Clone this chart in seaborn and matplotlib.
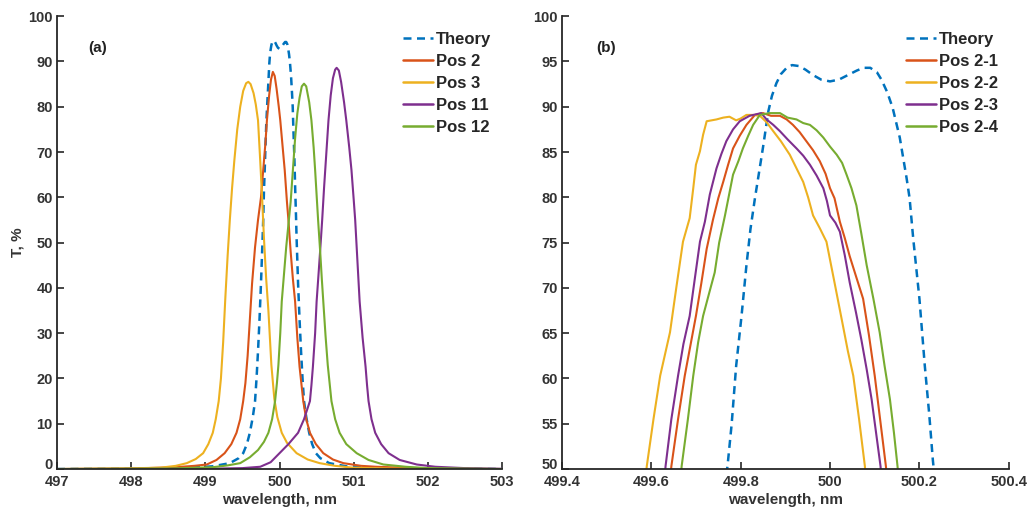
import matplotlib
matplotlib.use("Agg")
import matplotlib.pyplot as plt
import matplotlib.transforms as mtransforms
import seaborn as sns
import pandas as pd

# ---------------- data ----------------
theory_x = [497.0, 498.0, 498.8, 499.1, 499.33, 499.45, 499.51, 499.56, 499.60, 499.64, 499.67, 499.69,
            499.71, 499.73, 499.75, 499.772, 499.78, 499.79, 499.802, 499.813, 499.822, 499.832, 499.842,
            499.85, 499.862, 499.87, 499.88, 499.89, 499.903, 499.915, 499.93, 499.945, 499.962, 499.98,
            500.0, 500.02, 500.04, 500.06, 500.075, 500.09, 500.105, 500.115, 500.128, 500.14, 500.156,
            500.171, 500.178, 500.186, 500.2, 500.212, 500.222, 500.23, 500.25, 500.27, 500.29, 500.31,
            500.33, 500.36, 500.40, 500.44, 500.49, 500.55, 500.67, 500.9, 501.2, 502.0, 503.0]
theory_y = [0.0, 0.05, 0.3, 0.6, 1.3, 2.4, 3.5, 5.5, 8.0, 11.5, 15.0, 20.0, 26.0, 33.0, 41.0, 51.0, 55.0,
            61.4, 66.9, 72.5, 76.5, 79.9, 83.0, 85.5, 89.5, 91.2, 92.6, 93.6, 94.3, 94.6, 94.5, 94.1, 93.5,
            93.0, 92.8, 93.0, 93.5, 94.0, 94.3, 94.3, 93.8, 93.0, 91.6, 89.9, 86.6, 82.2, 79.9, 75.5, 68.8,
            61.4, 56.0, 51.0, 41.0, 33.0, 26.0, 20.0, 15.0, 11.5, 8.0, 5.5, 3.5, 2.4, 1.3, 0.6, 0.3, 0.05,
            0.0]

pos2_x = [497.0, 498.0, 498.6, 498.85, 499.02, 499.15, 499.26, 499.35, 499.42, 499.47, 499.51, 499.54,
          499.57, 499.60, 499.63, 499.67, 499.71, 499.75, 499.78, 499.81, 499.83, 499.86, 499.885, 499.91,
          499.935, 499.96, 499.99, 500.01, 500.04, 500.07, 500.10, 500.12, 500.15, 500.18, 500.21, 500.24,
          500.27, 500.32, 500.36, 500.41, 500.49, 500.59, 500.72, 500.86, 501.1, 501.3, 502.0, 503.0]
pos2_y = [0.0, 0.1, 0.4, 0.7, 1.0, 2.0, 3.5, 5.5, 8.0, 11.0, 15.0, 19.0, 25.0, 33.0, 41.0, 49.0, 55.0,
          60.0, 66.0, 72.0, 77.0, 82.5, 86.0, 87.7, 86.8, 84.0, 80.0, 77.0, 71.5, 66.0, 59.0, 55.0, 48.0,
          42.0, 37.0, 29.0, 22.6, 15.0, 11.0, 8.0, 5.5, 3.5, 2.1, 1.3, 0.7, 0.5, 0.1, 0.0]

pos3_x = [497.0, 498.0, 498.4, 498.6, 498.75, 498.87, 498.97, 499.04, 499.10, 499.14, 499.18, 499.21,
          499.24, 499.27, 499.30, 499.33, 499.36, 499.39, 499.43, 499.47, 499.51, 499.55, 499.58, 499.61,
          499.65, 499.68, 499.71, 499.74, 499.765, 499.79, 499.82, 499.85, 499.87, 499.89, 499.93, 499.97,
          500.03, 500.1, 500.23, 500.38, 500.54, 500.75, 500.99, 501.5, 502.0, 503.0]
pos3_y = [0.0, 0.15, 0.3, 0.7, 1.3, 2.2, 3.5, 5.5, 8.0, 11.0, 15.0, 20.0, 28.0, 38.0, 47.0, 55.0, 62.0,
          68.0, 75.0, 80.0, 83.5, 85.2, 85.5, 85.0, 83.0, 80.5, 77.0, 68.0, 60.0, 51.0, 42.0, 35.0, 29.0,
          23.0, 15.5, 11.5, 8.0, 5.8, 3.5, 2.1, 1.3, 0.7, 0.3, 0.1, 0.05, 0.0]

pos11_x = [497.0, 499.0, 499.5, 499.74, 499.88, 500.0, 500.12, 500.25, 500.33, 500.41, 500.43, 500.45,
           500.48, 500.50, 500.53, 500.555, 500.575, 500.60, 500.62, 500.66, 500.69, 500.72, 500.75, 500.77,
           500.80, 500.83, 500.87, 500.90, 500.94, 500.97, 501.0, 501.02, 501.05, 501.08, 501.12, 501.16,
           501.18, 501.20, 501.24, 501.29, 501.37, 501.47, 501.62, 501.85, 502.1, 502.5, 503.0]
pos11_y = [0.0, 0.05, 0.2, 0.5, 1.5, 3.5, 5.5, 8.0, 11.0, 15.0, 18.5, 22.6, 30.0, 37.0, 44.0, 50.0, 55.0,
           62.0, 67.0, 77.0, 82.5, 86.3, 88.2, 88.6, 88.0, 85.5, 81.0, 77.0, 71.0, 66.0, 59.5, 55.0, 46.0,
           37.0, 29.0, 22.6, 18.5, 15.0, 11.0, 8.0, 5.5, 3.5, 2.0, 1.0, 0.5, 0.2, 0.05]

pos12_x = [497.0, 498.5, 499.1, 499.3, 499.47, 499.6, 499.71, 499.79, 499.85, 499.90, 499.94, 499.965,
           499.985, 500.01, 500.03, 500.06, 500.09, 500.12, 500.15, 500.18, 500.21, 500.24, 500.27, 500.30,
           500.33, 500.36, 500.40, 500.43, 500.46, 500.48, 500.50, 500.52, 500.55, 500.57, 500.59, 500.62,
           500.65, 500.675, 500.70, 500.75, 500.81, 500.9, 501.04, 501.2, 501.4, 501.7, 502.0, 503.0]
pos12_y = [0.0, 0.1, 0.4, 0.8, 1.3, 2.6, 4.2, 6.0, 8.0, 11.0, 15.0, 19.0, 23.0, 30.0, 37.0, 43.0, 49.0,
           54.0, 59.0, 66.0, 73.0, 78.5, 82.0, 84.5, 85.1, 84.5, 81.0, 77.0, 71.0, 66.0, 60.5, 55.0, 47.5,
           42.0, 37.0, 29.5, 23.0, 19.0, 15.0, 11.0, 8.0, 5.5, 3.5, 2.0, 1.0, 0.5, 0.2, 0.0]

p21_x = [499.635, 499.645, 499.66, 499.675, 499.70, 499.712, 499.724, 499.738, 499.75, 499.761, 499.772,
         499.783, 499.798, 499.813, 499.832, 499.85, 499.868, 499.888, 499.903, 499.917, 499.932, 499.947,
         499.962, 499.977, 499.99, 500.0, 500.01, 500.022, 500.033, 500.044, 500.058, 500.074, 500.087,
         500.1, 500.112, 500.125, 500.135]
p21_y = [45.0, 50.3, 55.5, 60.3, 66.9, 70.5, 74.3, 77.5, 79.9, 81.7, 83.6, 85.4, 86.8, 88.0, 89.1, 89.3,
         89.0, 89.0, 88.6, 88.0, 87.2, 86.2, 85.2, 84.0, 82.6, 81.0, 79.9, 77.3, 75.5, 73.5, 71.3, 68.8,
         64.8, 60.3, 55.5, 50.3, 45.0]

p22_x = [499.58, 499.59, 499.605, 499.62, 499.642, 499.656, 499.671, 499.686, 499.694, 499.70, 499.709,
         499.716, 499.724, 499.735, 499.746, 499.761, 499.775, 499.79, 499.80, 499.813, 499.828, 499.843,
         499.858, 499.873, 499.89, 499.91, 499.925, 499.94, 499.951, 499.962, 499.977, 499.992, 500.01,
         500.029, 500.04, 500.052, 500.065, 500.078, 500.085]
p22_y = [45.0, 50.3, 55.5, 60.3, 65.1, 70.0, 75.1, 77.7, 81.0, 83.6, 85.1, 86.9, 88.4, 88.5, 88.6, 88.8,
         88.9, 88.5, 88.7, 89.1, 89.1, 89.0, 88.3, 87.3, 86.2, 84.7, 83.2, 81.7, 80.0, 78.0, 76.6, 75.1,
         70.6, 65.8, 63.0, 60.3, 55.5, 50.3, 45.0]

p23_x = [499.625, 499.632, 499.645, 499.66, 499.672, 499.686, 499.698, 499.709, 499.72, 499.731, 499.746,
         499.757, 499.768, 499.783, 499.798, 499.82, 499.846, 499.858, 499.873, 499.888, 499.905, 499.925,
         499.94, 499.955, 499.97, 499.985, 499.993, 500.0, 500.012, 500.022, 500.033, 500.044, 500.058,
         500.07, 500.082, 500.093, 500.103, 500.113, 500.12]
p23_y = [45.0, 50.3, 55.5, 60.3, 63.8, 66.9, 71.2, 75.1, 77.3, 80.3, 83.2, 84.8, 86.2, 87.5, 88.4, 89.0,
         89.3, 88.6, 88.0, 87.3, 86.4, 85.4, 84.6, 83.6, 82.4, 81.0, 79.6, 78.0, 77.2, 76.2, 73.6, 70.6,
         67.3, 64.3, 61.0, 57.7, 54.0, 50.3, 45.0]

p24_x = [499.66, 499.668, 499.682, 499.694, 499.705, 499.716, 499.73, 499.742, 499.752, 499.765, 499.775,
         499.783, 499.795, 499.805, 499.817, 499.828, 499.843, 499.865, 499.888, 499.905, 499.925, 499.94,
         499.955, 499.97, 499.985, 500.0, 500.015, 500.027, 500.037, 500.048, 500.059, 500.07, 500.082,
         500.097, 500.111, 500.122, 500.134, 500.143, 500.151, 500.16]
p24_y = [45.0, 50.3, 55.5, 60.3, 64.0, 66.9, 69.5, 71.7, 75.0, 78.0, 80.5, 82.5, 84.0, 85.4, 86.8, 88.0,
         89.1, 89.3, 89.3, 88.8, 88.6, 88.2, 88.0, 87.4, 86.6, 85.6, 84.7, 83.8, 82.5, 81.0, 79.1, 76.0,
         72.5, 68.8, 65.1, 61.4, 57.7, 54.0, 50.3, 45.0]

labels_a = ["Theory", "Pos 2", "Pos 3", "Pos 11", "Pos 12"]
labels_b = ["Theory", "Pos 2-1", "Pos 2-2", "Pos 2-3", "Pos 2-4"]
xticks_a = [497, 498, 499, 500, 501, 502, 503]
yticks_a = [0, 10, 20, 30, 40, 50, 60, 70, 80, 90, 100]
xticks_b = [499.4, 499.6, 499.8, 500.0, 500.2, 500.4]
xticklabels_b = ["499.4", "499.6", "499.8", "500", "500.2", "500.4"]
yticks_b = [50, 55, 60, 65, 70, 75, 80, 85, 90, 95, 100]

# ---------------- style ----------------
sns.set_theme(style="ticks")
plt.rcParams["font.family"] = ["Liberation Sans", "DejaVu Sans"]
plt.rcParams["font.weight"] = "bold"
plt.rcParams["axes.labelweight"] = "bold"

C_BLUE = "#0072BD"
C_ORANGE = "#D95319"
C_YELLOW = "#EDB120"
C_PURPLE = "#7E2F8E"
C_GREEN = "#77AC30"

fig = plt.figure(figsize=(10.29, 5.14), dpi=100)
axA = fig.add_axes([0.0554, 0.0875, 0.4325, 0.881])
axB = fig.add_axes([0.546, 0.0875, 0.4344, 0.881])

def draw(ax, xs, ys, color, label, dashed=False):
    df = pd.DataFrame({"x": xs, "y": ys})
    sns.lineplot(data=df, x="x", y="y", ax=ax, color=color, label=label, sort=False,
                 linewidth=1.5 if not dashed else 1.8,
                 linestyle=(0, (3.2, 2.2)) if dashed else "-", clip_on=True)

# panel a
draw(axA, theory_x, theory_y, C_BLUE, labels_a[0], dashed=True)
draw(axA, pos2_x, pos2_y, C_ORANGE, labels_a[1])
draw(axA, pos3_x, pos3_y, C_YELLOW, labels_a[2])
draw(axA, pos11_x, pos11_y, C_PURPLE, labels_a[3])
draw(axA, pos12_x, pos12_y, C_GREEN, labels_a[4])

# panel b
draw(axB, theory_x, theory_y, C_BLUE, labels_b[0], dashed=True)
draw(axB, p21_x, p21_y, C_ORANGE, labels_b[1])
draw(axB, p22_x, p22_y, C_YELLOW, labels_b[2])
draw(axB, p23_x, p23_y, C_PURPLE, labels_b[3])
draw(axB, p24_x, p24_y, C_GREEN, labels_b[4])

axA.set_xlim(497, 503)
axA.set_ylim(0, 100)
axA.set_xticks(xticks_a)
axA.set_yticks(yticks_a)
axB.set_xlim(499.4, 500.4)
axB.set_ylim(50, 100)
axB.set_xticks(xticks_b)
axB.set_xticklabels(xticklabels_b)
axB.set_yticks(yticks_b)

legend_x = {axA: 0.7775, axB: 0.7696}
for ax in (axA, axB):
    for s in ("top", "right"):
        ax.spines[s].set_visible(False)
    for s in ("left", "bottom"):
        ax.spines[s].set_linewidth(1.3)
        ax.spines[s].set_color("#262626")
    ax.tick_params(direction="in", length=5, width=1.2, labelsize=10.5, colors="#262626",
                   labelcolor="#333333")
    ax.tick_params(axis="x", pad=4)
    ax.tick_params(axis="y", pad=3)
    for t in ax.get_xticklabels() + ax.get_yticklabels():
        t.set_fontweight("bold")
    ax.set_xlabel("wavelength, nm", fontsize=11, fontweight="bold", labelpad=3, color="#333333")
    ax.set_ylabel("")
    leg = ax.legend(loc="upper left", bbox_to_anchor=(legend_x[ax], 0.966), frameon=False,
                    handlelength=1.8, handletextpad=0.2, labelspacing=0.43, borderpad=0.0,
                    borderaxespad=0.0, prop={"weight": "bold", "size": 12})
    for line in leg.get_lines():
        line.set_linewidth(1.8)
    # lift the lowest y tick label a little, as in the reference
    first = ax.yaxis.get_major_ticks()[0].label1
    first.set_transform(first.get_transform() +
                        mtransforms.ScaledTranslation(0, 6 / 100, fig.dpi_scale_trans))

axA.set_ylabel("T, %", fontsize=11, fontweight="bold", labelpad=3, color="#333333")
axA.text(0.07, 0.92, "(a)", transform=axA.transAxes, fontsize=11, fontweight="bold", color="#222222")
axB.text(0.077, 0.92, "(b)", transform=axB.transAxes, fontsize=11, fontweight="bold", color="#222222")

fig.savefig("out.png", dpi=100)
